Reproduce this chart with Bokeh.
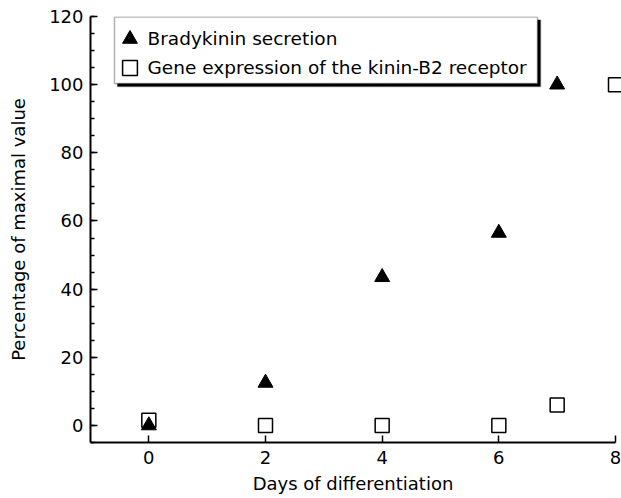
from bokeh.plotting import figure
from bokeh.models import (Range1d, SingleIntervalTicker, Legend, LegendItem,
                          BoxAnnotation)
from bokeh.embed import file_html
from bokeh.resources import INLINE

# ---- data ----
days_bradykinin = [0, 2, 4, 6, 7]
bradykinin_secretion = [0, 12.5, 43.5, 56.5, 100]
days_receptor = [0, 2, 4, 6, 7, 8]
receptor_expression = [1.5, 0, 0, 0, 6, 100]
label_bradykinin = "Bradykinin secretion"
label_receptor = "Gene expression of the kinin-B2 receptor"
x_title = "Days of differentiation"
y_title = "Percentage of maximal value"

FONT = "DejaVu Sans"

p = figure(width=621, height=498, output_backend="svg", toolbar_location=None,
           x_range=Range1d(-1, 8), y_range=Range1d(-5, 120),
           min_border_left=90, min_border_right=6, min_border_top=16,
           min_border_bottom=56)
p.outline_line_color = None
p.grid.visible = False
p.background_fill_color = "white"
p.border_fill_color = "white"

p.xaxis.ticker = SingleIntervalTicker(interval=2, num_minor_ticks=0)
p.yaxis.ticker = SingleIntervalTicker(interval=20, num_minor_ticks=4)
p.xaxis.axis_label = x_title
p.yaxis.axis_label = y_title

for ax in (p.xaxis[0], p.yaxis[0]):
    ax.axis_line_width = 2
    ax.axis_line_color = "black"
    ax.major_tick_in = 7
    ax.major_tick_out = 0
    ax.minor_tick_in = 4
    ax.minor_tick_out = 0
    ax.major_tick_line_width = 1.5
    ax.minor_tick_line_width = 1.5
    ax.major_tick_line_color = "black"
    ax.minor_tick_line_color = "black"
    ax.major_label_text_font = FONT
    ax.major_label_text_font_size = "18px"
    ax.major_label_text_color = "black"
    ax.axis_label_text_font = FONT
    ax.axis_label_text_font_size = "18px"
    ax.axis_label_text_font_style = "normal"
    ax.axis_label_text_color = "black"

p.xaxis.major_label_standoff = 8
p.xaxis.axis_label_standoff = 6
p.yaxis.major_label_standoff = 7
p.yaxis.axis_label_standoff = 17

r_rec = p.scatter(days_receptor, receptor_expression, marker="square", size=14,
                  fill_color="white", line_color="black", line_width=1.5,
                  level="overlay")
r_bk = p.scatter(days_bradykinin, bradykinin_secretion, marker="triangle", size=15,
                 fill_color="black", line_color="black", line_width=1,
                 level="overlay")

# legend frame with drop shadow
shadow = BoxAnnotation(left=27, right=450, top=422.5, bottom=356,
                       left_units="screen", right_units="screen",
                       top_units="screen", bottom_units="screen",
                       fill_color="black", fill_alpha=1,
                       line_color="black", line_width=1.5)
box = BoxAnnotation(left=24, right=447, top=425.5, bottom=359,
                    left_units="screen", right_units="screen",
                    top_units="screen", bottom_units="screen",
                    fill_color="white", fill_alpha=1,
                    line_color="black", line_width=1.5)
p.add_layout(shadow)
p.add_layout(box)


def make_legend(label, renderer, loc):
    return Legend(items=[LegendItem(label=label, renderers=[renderer])],
                  location=loc, padding=0, margin=0, spacing=0,
                  glyph_width=37, glyph_height=37, label_height=37,
                  label_standoff=0, background_fill_alpha=0,
                  border_line_alpha=0, label_text_font=FONT,
                  label_text_font_size="18.5px", label_text_color="black")


p.add_layout(make_legend(label_bradykinin, r_bk, (20.5, 385)), "center")
p.add_layout(make_legend(label_receptor, r_rec, (20.5, 356)), "center")

open("out.html", "w").write(file_html(p, INLINE))
